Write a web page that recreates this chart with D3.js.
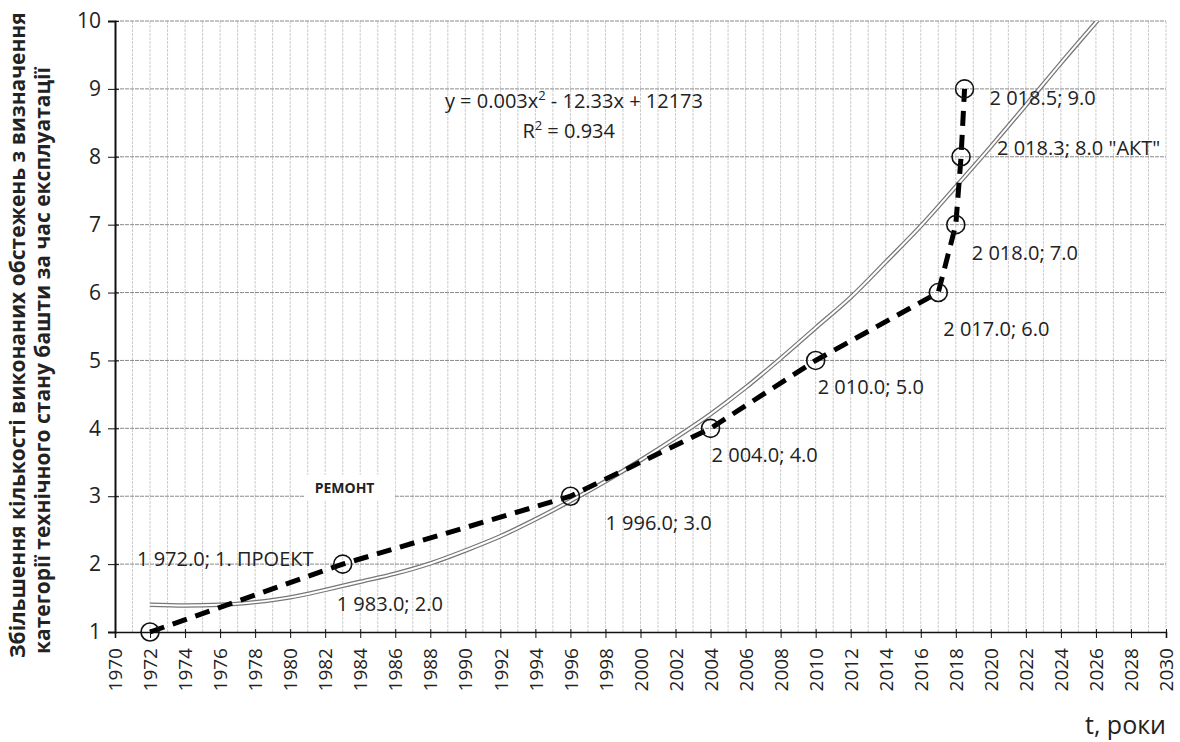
<!DOCTYPE html>
<html>
<head>
<meta charset="utf-8">
<script src="https://cdn.jsdelivr.net/npm/d3@7"></script>
<style>
    body { margin: 0; background: #fff; }
    text { font-family: "Open Sans", "Noto Sans", sans-serif; fill: #222; }
</style>
</head>
<body>
<div id="chart"></div>
<script>
// survey points (year, count)
const surveyYears = [1972, 1983, 1996, 2004, 2010, 2017, 2018, 2018.3, 2018.5];
const surveyValues = [1, 2, 3, 4, 5, 6, 7, 8, 9];
const surveyLabels = ["1 972.0; 1. ПРОЕКТ", "1 983.0; 2.0", "1 996.0; 3.0", "2 004.0; 4.0",
    "2 010.0; 5.0", "2 017.0; 6.0", "2 018.0; 7.0", "2 018.3; 8.0 \"АКТ\"", "2 018.5; 9.0"];

// trend curve
const trendYears = [1972, 1974, 1976, 1978, 1980, 1982, 1984, 1986, 1988, 1990, 1992, 1994, 1996,
    1998, 2000, 2002, 2004, 2006, 2008, 2010, 2012, 2014, 2016, 2018, 2020, 2022, 2024, 2026, 2026.3];
const trendValues = [1.40, 1.39, 1.40, 1.44, 1.51, 1.62, 1.74, 1.86, 2.01, 2.20, 2.41, 2.66, 2.93,
    3.22, 3.53, 3.86, 4.21, 4.60, 5.03, 5.48, 5.93, 6.45, 6.98, 7.56, 8.15, 8.76, 9.38, 9.98, 10.07];

const xTicks = d3.range(1970, 2031, 2);
const yTicks = d3.range(1, 11, 1);

const width = 1180, height = 742;
const margin = {top: 21, right: 14, bottom: 110, left: 115};
const w = width - margin.left - margin.right;
const h = height - margin.top - margin.bottom;

const svg = d3.select("#chart").append("svg")
    .attr("width", width)
    .attr("height", height);

const g = svg.append("g")
    .attr("transform", "translate(" + margin.left + "," + margin.top + ")");

const x = d3.scaleLinear().domain([1970, 2030]).range([0, w]);
const y = d3.scaleLinear().domain([1, 10]).range([h, 0]);

// grid
g.append("g").selectAll("line")
    .data(d3.range(1971, 2031, 1))
    .enter().append("line")
    .attr("x1", d => x(d)).attr("x2", d => x(d))
    .attr("y1", 0).attr("y2", h)
    .attr("stroke", "#cdcdcd")
    .attr("stroke-width", 1)
    .attr("stroke-dasharray", "3,1");

g.append("g").selectAll("line")
    .data(yTicks.slice(1))
    .enter().append("line")
    .attr("x1", 0).attr("x2", w)
    .attr("y1", d => y(d)).attr("y2", d => y(d))
    .attr("stroke", "#8a8a8a")
    .attr("stroke-width", 1)
    .attr("stroke-dasharray", "4,1");

// axes
const xAxis = d3.axisBottom(x).tickValues(xTicks).tickFormat(d3.format("d")).tickSize(6);
const yAxis = d3.axisLeft(y).tickValues(yTicks).tickFormat(d3.format("d")).tickSize(7);

const gx = g.append("g")
    .attr("transform", "translate(0," + h + ")")
    .call(xAxis);
gx.select(".domain").attr("stroke", "#111").attr("stroke-width", 1.6);
gx.selectAll(".tick line").attr("stroke", "#111").attr("y1", -3);
gx.selectAll("text")
    .attr("font-size", 19)
    .attr("text-anchor", "end")
    .attr("transform", "rotate(-90)")
    .attr("x", -16)
    .attr("y", 0)
    .attr("dy", "0.35em");

const gy = g.append("g").call(yAxis);
gy.select(".domain").attr("stroke", "#111").attr("stroke-width", 2);
gy.selectAll(".tick line").attr("stroke", "#111").attr("x1", 4);
gy.selectAll("text")
    .attr("font-size", 21)
    .attr("x", -14);

// trend line (double stroke)
g.append("clipPath").attr("id", "plotclip")
    .append("rect").attr("x", 0).attr("y", 0).attr("width", w).attr("height", h);

const trendLine = d3.line()
    .x((d, i) => x(trendYears[i]))
    .y(d => y(d))
    .curve(d3.curveMonotoneX);

g.append("path")
    .datum(trendValues)
    .attr("clip-path", "url(#plotclip)")
    .attr("fill", "none")
    .attr("stroke", "#777")
    .attr("stroke-width", 4.5)
    .attr("d", trendLine);
g.append("path")
    .datum(trendValues)
    .attr("clip-path", "url(#plotclip)")
    .attr("fill", "none")
    .attr("stroke", "#fff")
    .attr("stroke-width", 2)
    .attr("d", trendLine);

// survey dashed line
const surveyLine = d3.line()
    .x((d, i) => x(surveyYears[i]))
    .y(d => y(d));

g.append("path")
    .datum(surveyValues)
    .attr("fill", "none")
    .attr("stroke", "#000")
    .attr("stroke-width", 5)
    .attr("stroke-dasharray", "15,9")
    .attr("d", surveyLine);

g.selectAll(".pt")
    .data(surveyValues)
    .enter().append("circle")
    .attr("class", "pt")
    .attr("cx", (d, i) => x(surveyYears[i]))
    .attr("cy", d => y(d))
    .attr("r", 9)
    .attr("fill", "none")
    .attr("stroke", "#111")
    .attr("stroke-width", 1.6);

// point labels (offsets in px from each point, left edge / middle line)
const labelOffsets = [[-13, -73], [-6, 40], [35, 27], [1, 27], [2, 27], [5, 36], [16, 28], [36, -9], [25, 9]];
g.selectAll(".lbl")
    .data(surveyValues)
    .enter().append("text")
    .attr("class", "lbl")
    .attr("x", (d, i) => x(surveyYears[i]) + labelOffsets[i][0])
    .attr("y", (d, i) => y(d) + labelOffsets[i][1])
    .attr("dy", "0.35em")
    .attr("font-size", 20)
    .text((d, i) => surveyLabels[i]);

// РЕМОНТ note
g.append("rect")
    .attr("x", x(1981.3) - 8).attr("y", y(3.05) - 18)
    .attr("width", 90).attr("height", 26)
    .attr("fill", "#fff");
g.append("text")
    .attr("x", x(1981.4))
    .attr("y", y(3.05))
    .attr("font-size", 14)
    .attr("font-weight", "bold")
    .attr("fill", "#333")
    .text("РЕМОНТ");

// equation
const eq = g.append("text")
    .attr("x", x(1996.2))
    .attr("y", y(8.72))
    .attr("text-anchor", "middle")
    .attr("font-size", 20);
eq.append("tspan").text("y = 0.003x");
eq.append("tspan").attr("font-size", 13).attr("dy", -8).text("2");
eq.append("tspan").attr("dy", 8).text(" - 12.33x + 12173");

const r2 = g.append("text")
    .attr("x", x(1995.9))
    .attr("y", y(8.28))
    .attr("text-anchor", "middle")
    .attr("font-size", 20);
r2.append("tspan").text("R");
r2.append("tspan").attr("font-size", 13).attr("dy", -8).text("2");
r2.append("tspan").attr("dy", 8).text(" = 0.934");

// axis titles
svg.append("text")
    .attr("transform", "translate(25,658) rotate(-90)")
    .attr("font-size", 21)
    .attr("font-weight", "bold")
    .attr("fill", "#333")
    .text("Збільшення кількості виконаних обстежень з визначення");
svg.append("text")
    .attr("transform", "translate(50,654) rotate(-90)")
    .attr("font-size", 21)
    .attr("font-weight", "bold")
    .attr("fill", "#333")
    .text("категорії технічного стану башти за час експлуатації");

svg.append("text")
    .attr("x", 1166)
    .attr("y", 734)
    .attr("text-anchor", "end")
    .attr("font-size", 25)
    .attr("fill", "#222")
    .text("t, роки");
</script>
</body>
</html>
